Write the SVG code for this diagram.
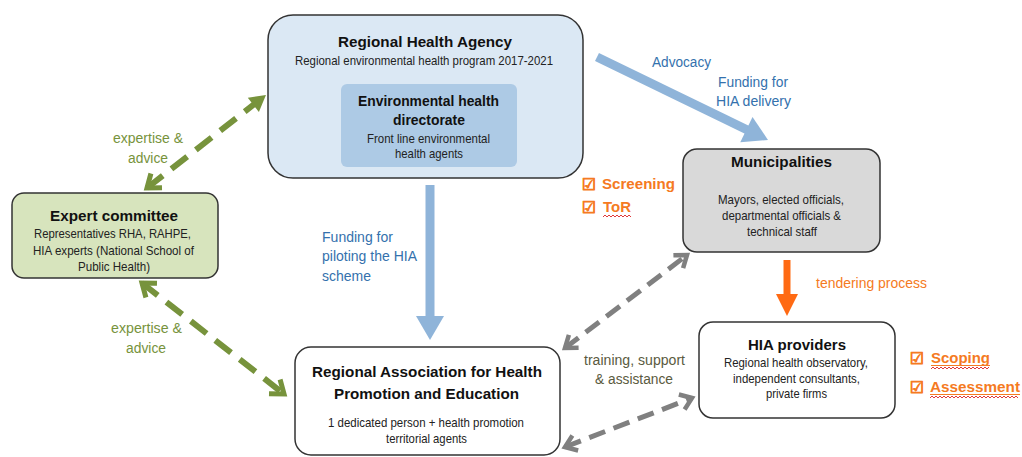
<svg xmlns="http://www.w3.org/2000/svg" width="1022" height="457" viewBox="0 0 1022 457">
<style>
text{font-family:"Liberation Sans Narrow","Liberation Sans",Arial,sans-serif;}
.t{font-weight:bold;font-size:15.5px;fill:#111;text-anchor:middle;}
.b{font-size:13.5px;fill:#222;text-anchor:middle;}
.bl{font-size:15.5px;fill:#3471ad;}
.gr{font-size:15.5px;fill:#77933c;text-anchor:middle;}
.or{font-size:15.5px;fill:#f57a22;}
.ob{font-size:15.5px;fill:#f57a22;font-weight:bold;}
.ck{font-family:"DejaVu Sans",sans-serif;font-weight:bold;font-size:16px;fill:#f57a22;stroke:#f57a22;stroke-width:0.9;}
.box{stroke:#333;stroke-width:1.5;}
.gd{stroke:#77933c;stroke-width:6;stroke-dasharray:20 11;fill:none;}
.gy{stroke:#808080;stroke-width:5;stroke-dasharray:17 9;fill:none;}
.wave{fill:none;stroke:#e03a3a;stroke-width:1;}
marker{overflow:visible;}
</style>
<defs>
<marker id="blueHead" viewBox="0 0 24 28" markerWidth="24" markerHeight="28" refX="4" refY="14" orient="auto" markerUnits="userSpaceOnUse"><path d="M0,0 L24,14 L0,28 Z" fill="#8fb4d9"/></marker>
<marker id="orHead" viewBox="0 0 22 22" markerWidth="22" markerHeight="22" refX="3" refY="11" orient="auto" markerUnits="userSpaceOnUse"><path d="M0,0 L22,11 L0,22 Z" fill="#ff6a13"/></marker>
<marker id="gTri" viewBox="0 0 16 18" markerWidth="16" markerHeight="18" refX="12" refY="9" orient="auto" markerUnits="userSpaceOnUse"><path d="M0,0 L16,9 L0,18 Z" fill="#77933c"/></marker>
<marker id="gChev" viewBox="0 0 16 20" markerWidth="16" markerHeight="20" refX="14" refY="10" orient="auto-start-reverse" markerUnits="userSpaceOnUse"><path d="M2,1 L14,10 L2,19" fill="none" stroke="#77933c" stroke-width="5"/></marker>
<marker id="yChev" viewBox="0 0 14 18" markerWidth="14" markerHeight="18" refX="12" refY="9" orient="auto-start-reverse" markerUnits="userSpaceOnUse"><path d="M1,1 L12,9 L1,17" fill="none" stroke="#808080" stroke-width="4.5"/></marker>
</defs>

<g id="connectors">
<line x1="597" y1="57" x2="750" y2="131.3" stroke="#8fb4d9" stroke-width="9" marker-end="url(#blueHead)"/>
<line x1="430" y1="185" x2="430" y2="320" stroke="#8fb4d9" stroke-width="9" marker-end="url(#blueHead)"/>
<line x1="787" y1="260" x2="787" y2="297" stroke="#ff6a13" stroke-width="7" marker-end="url(#orHead)"/>
<line class="gd" x1="147" y1="188" x2="262.8" y2="97.5" marker-start="url(#gChev)" marker-end="url(#gTri)"/>
<line class="gd" x1="142" y1="283" x2="284" y2="394" marker-start="url(#gChev)" marker-end="url(#gChev)"/>
<line class="gy" x1="565" y1="348" x2="687" y2="255" marker-start="url(#yChev)" marker-end="url(#yChev)"/>
<line class="gy" x1="565" y1="447" x2="692" y2="398" marker-start="url(#yChev)" marker-end="url(#yChev)"/>
</g>

<g id="connector-labels">
<text class="bl" x="681.5" y="67" text-anchor="middle" textLength="59" lengthAdjust="spacingAndGlyphs">Advocacy</text>
<text class="bl" x="753" y="87" text-anchor="middle" textLength="70" lengthAdjust="spacingAndGlyphs">Funding for</text>
<text class="bl" x="753.5" y="106" text-anchor="middle" textLength="75" lengthAdjust="spacingAndGlyphs">HIA delivery</text>
<text class="bl" x="322" y="242" textLength="71" lengthAdjust="spacingAndGlyphs">Funding for</text>
<text class="bl" x="322" y="261" textLength="95" lengthAdjust="spacingAndGlyphs">piloting the HIA</text>
<text class="bl" x="322" y="281" textLength="49" lengthAdjust="spacingAndGlyphs">scheme</text>
<text class="gr" x="148" y="143" textLength="70" lengthAdjust="spacingAndGlyphs">expertise &amp;</text>
<text class="gr" x="148" y="163" textLength="40" lengthAdjust="spacingAndGlyphs">advice</text>
<text class="gr" x="146.5" y="333" textLength="71" lengthAdjust="spacingAndGlyphs">expertise &amp;</text>
<text class="gr" x="146" y="353" textLength="40" lengthAdjust="spacingAndGlyphs">advice</text>
<text class="or" x="816" y="288" textLength="111" lengthAdjust="spacingAndGlyphs">tendering process</text>
<text x="634.5" y="365" font-size="15.5" fill="#5a5a40" text-anchor="middle" textLength="101" lengthAdjust="spacingAndGlyphs">training, support</text>
<text x="634" y="384" font-size="15.5" fill="#5a5a40" text-anchor="middle" textLength="78" lengthAdjust="spacingAndGlyphs">&amp; assistance</text>
</g>

<g id="steps">
<text class="ck" x="582" y="190" textLength="14" lengthAdjust="spacingAndGlyphs">☑</text>
<text class="ob" x="602" y="189" textLength="73" lengthAdjust="spacingAndGlyphs">Screening</text>
<text class="ck" x="582" y="213" textLength="14" lengthAdjust="spacingAndGlyphs">☑</text>
<text class="ob" x="603" y="212" textLength="28" lengthAdjust="spacingAndGlyphs">ToR</text>
<path class="wave" d="M603,217 l2,-2 l2,2 l2,-2 l2,2 l2,-2 l2,2 l2,-2 l2,2 l2,-2 l2,2 l2,-2 l2,2 l2,-2 l2,2"/>
<text class="ck" x="910" y="364" textLength="14" lengthAdjust="spacingAndGlyphs">☑</text>
<text class="ob" x="931" y="363" textLength="59" lengthAdjust="spacingAndGlyphs">Scoping</text>
<line x1="931" y1="365.5" x2="990" y2="365.5" stroke="#f57a22" stroke-width="1"/>
<path class="wave" d="M931,369 l2,-2 l2,2 l2,-2 l2,2 l2,-2 l2,2 l2,-2 l2,2 l2,-2 l2,2 l2,-2 l2,2 l2,-2 l2,2 l2,-2 l2,2 l2,-2 l2,2 l2,-2 l2,2 l2,-2 l2,2 l2,-2 l2,2 l2,-2 l2,2 l2,-2 l2,2 l2,-2"/>
<text class="ck" x="910" y="393" textLength="14" lengthAdjust="spacingAndGlyphs">☑</text>
<text class="ob" x="930" y="392" textLength="90" lengthAdjust="spacingAndGlyphs">Assessment</text>
<line x1="930" y1="394.5" x2="1020" y2="394.5" stroke="#f57a22" stroke-width="1"/>
<path class="wave" d="M930,398 l2,-2 l2,2 l2,-2 l2,2 l2,-2 l2,2 l2,-2 l2,2 l2,-2 l2,2 l2,-2 l2,2 l2,-2 l2,2 l2,-2 l2,2 l2,-2 l2,2 l2,-2 l2,2 l2,-2 l2,2 l2,-2 l2,2 l2,-2 l2,2 l2,-2 l2,2 l2,-2 l2,2 l2,-2 l2,2 l2,-2 l2,2 l2,-2 l2,2 l2,-2 l2,2 l2,-2 l2,2 l2,-2 l2,2 l2,-2 l2,2"/>
</g>

<g id="rha">
<rect class="box" x="268" y="15" width="315" height="163" rx="25" fill="#dbe8f4"/>
<text class="t" x="425" y="47" textLength="174" lengthAdjust="spacingAndGlyphs">Regional Health Agency</text>
<text class="b" x="424" y="65" textLength="258" lengthAdjust="spacingAndGlyphs">Regional environmental health program 2017-2021</text>
</g>
<g id="directorate">
<rect x="341" y="84" width="176" height="83" rx="6" fill="#adcae5"/>
<text class="t" x="428.5" y="106" textLength="141" lengthAdjust="spacingAndGlyphs">Environmental health</text>
<text class="t" x="429" y="125" textLength="72" lengthAdjust="spacingAndGlyphs">directorate</text>
<text class="b" x="428.5" y="143" textLength="123" lengthAdjust="spacingAndGlyphs">Front line environmental</text>
<text class="b" x="429" y="158" textLength="68" lengthAdjust="spacingAndGlyphs">health agents</text>
</g>

<g id="expert">
<rect class="box" x="12" y="193" width="206" height="85" rx="12" fill="#d7e4bd"/>
<text class="t" x="114" y="221" textLength="128" lengthAdjust="spacingAndGlyphs">Expert committee</text>
<text class="b" x="112.5" y="238" textLength="157" lengthAdjust="spacingAndGlyphs">Representatives RHA, RAHPE,</text>
<text class="b" x="113.5" y="255" textLength="161" lengthAdjust="spacingAndGlyphs">HIA experts (National School of</text>
<text class="b" x="114" y="271" textLength="72" lengthAdjust="spacingAndGlyphs">Public Health)</text>
</g>

<g id="municipalities">
<rect class="box" x="683" y="149" width="197" height="103" rx="14" fill="#d9d9d9"/>
<text class="t" x="781.5" y="167" textLength="101" lengthAdjust="spacingAndGlyphs">Municipalities</text>
<text class="b" x="781" y="204" textLength="126" lengthAdjust="spacingAndGlyphs">Mayors, elected officials,</text>
<text class="b" x="781.5" y="220" textLength="119" lengthAdjust="spacingAndGlyphs">departmental officials &amp;</text>
<text class="b" x="782" y="236" textLength="70" lengthAdjust="spacingAndGlyphs">technical staff</text>
</g>

<g id="providers">
<rect class="box" x="699" y="322" width="196" height="96" rx="14" fill="#ffffff"/>
<text class="t" x="797" y="350" textLength="98" lengthAdjust="spacingAndGlyphs">HIA providers</text>
<text class="b" x="796" y="367" textLength="144" lengthAdjust="spacingAndGlyphs">Regional health observatory,</text>
<text class="b" x="796.5" y="383" textLength="127" lengthAdjust="spacingAndGlyphs">independent consultants,</text>
<text class="b" x="796.5" y="398" textLength="61" lengthAdjust="spacingAndGlyphs">private firms</text>
</g>

<g id="rahpe">
<rect class="box" x="295" y="347" width="265" height="108" rx="16" fill="#ffffff"/>
<text class="t" x="427" y="377" textLength="230" lengthAdjust="spacingAndGlyphs">Regional Association for Health</text>
<text class="t" x="426.5" y="399" textLength="185" lengthAdjust="spacingAndGlyphs">Promotion and Education</text>
<text class="b" x="426" y="427" textLength="196" lengthAdjust="spacingAndGlyphs">1 dedicated person + health promotion</text>
<text class="b" x="426.5" y="443" textLength="81" lengthAdjust="spacingAndGlyphs">territorial agents</text>
</g>
</svg>
